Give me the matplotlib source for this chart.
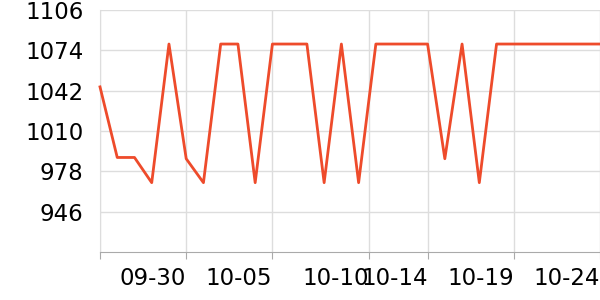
import matplotlib
matplotlib.use('Agg')
from matplotlib import pyplot as plt

# daily values, 09-25 .. 10-24
dates = ['09-25', '09-26', '09-27', '09-28', '09-29', '09-30', '10-01', '10-02', '10-03', '10-04',
	'10-05', '10-06', '10-07', '10-08', '10-09', '10-10', '10-11', '10-12', '10-13', '10-14',
	'10-15', '10-16', '10-17', '10-18', '10-19', '10-20', '10-21', '10-22', '10-23', '10-24']
values = [1045, 989, 989, 969, 1079, 988, 969, 1079, 1079, 969,
	1079, 1079, 1079, 969, 1079, 969, 1079, 1079, 1079, 1079,
	988, 1079, 969, 1079, 1079, 1079, 1079, 1079, 1079, 1079]

tick_pos = [0, 5, 10, 15.6, 19, 24, 29]
tick_labels = ['', '09-30', '10-05', '10-10', '10-14', '10-19', '10-24']
y_ticks = [946, 978, 1010, 1042, 1074, 1106]

fig = plt.figure(figsize=(6, 3), dpi=100)
ax = fig.add_axes([100 / 600, 48 / 300, 500 / 600, 242 / 300])

x = list(range(len(dates)))
ax.plot(x, values, color='#ee4b2b', linewidth=2, zorder=3, clip_on=False)

ax.set_xlim(0, len(dates) - 1)
ax.set_ylim(914, 1106)
ax.set_yticks(y_ticks)
ax.set_xticks(tick_pos)
ax.set_xticklabels(tick_labels, ha='right')

ax.grid(True, color='#dddddd', linewidth=1)
ax.set_axisbelow(True)
for s in ['top', 'right']: ax.spines[s].set_visible(False)
ax.spines['left'].set_color('#dddddd')
ax.spines['bottom'].set_color('#aaaaaa')

ax.tick_params(axis='y', length=0, pad=12, labelsize=16.5, labelcolor='black')
ax.tick_params(axis='x', length=5, color='#aaaaaa', pad=6, labelsize=16.5, labelcolor='black')

fig.savefig('out.png', dpi=100)
